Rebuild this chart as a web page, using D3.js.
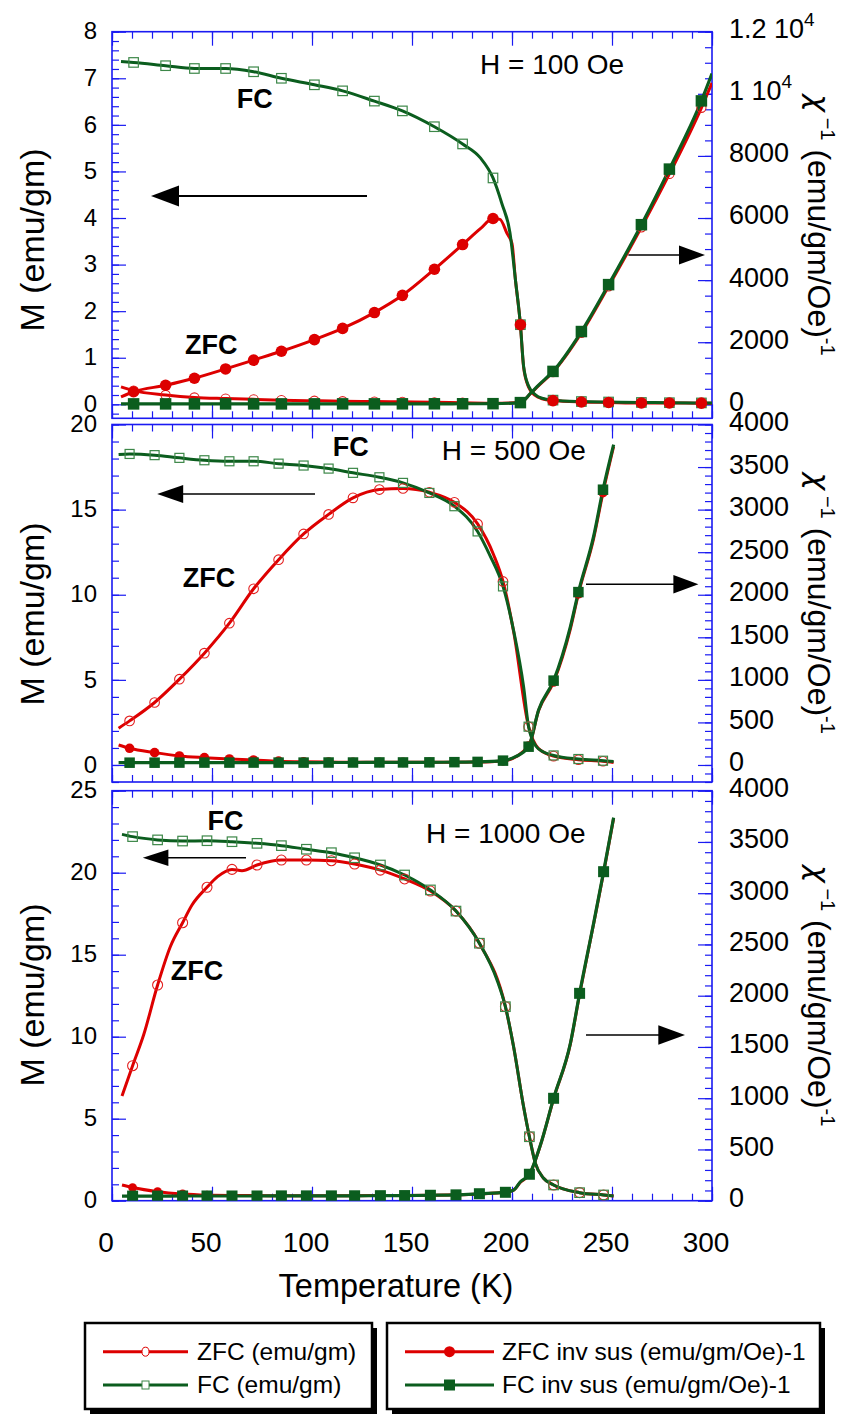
<!DOCTYPE html>
<html><head><meta charset="utf-8">
<script src="https://cdn.jsdelivr.net/npm/d3@7/dist/d3.min.js"></script>
<style>
body{margin:0;background:#fff}
svg{display:block}
text{font-family:"Liberation Sans",Arial,Helvetica,sans-serif;fill:#000}
</style>
</head><body>
<svg id="chart" width="854" height="1416"></svg>
<script>
// ---------------- DATA ----------------
const tempDomain = [0, 300];
const xTickLabels = [0, 50, 100, 150, 200, 250, 300];
const fieldLabels = ["H = 100 Oe", "H = 500 Oe", "H = 1000 Oe"];
const leftDomains = [[-0.3, 8], [-1, 20], [0, 25]];
const rightDomains = [[-450, 12000], [-200, 4000], [0, 4000]];
const leftTickLabels = [[0,1,2,3,4,5,6,7,8],[0,5,10,15,20],[0,5,10,15,20,25]];
const rightTickLabels = [[0,2000,4000,6000,8000,10000,12000],[0,500,1000,1500,2000,2500,3000,3500,4000],[0,500,1000,1500,2000,2500,3000,3500,4000]];
const legendLabels = ["ZFC (emu/gm)", "FC (emu/gm)", "ZFC inv sus (emu/gm/Oe)-1", "FC inv sus (emu/gm/Oe)-1"];

// H = 100 Oe
const markT_100 = [10.8,26.8,41.2,56.8,70.8,84.7,101.2,115.3,131.2,145.2,161.2,175.3,190.5,204.2,220.5,234.7,248.3,264.7,278.7,294.7];
const T_fcM_100 = [4.5,10.8,26.8,41.2,56.8,70.8,84.7,101.2,115.3,131.2,145.2,161.2,175.3,184.2,190.5,195,199,201.7,204.2,205.8,208.3,211.6,215,220.5,234.7,248.3,264.7,278.7,294.7,300];
const fcM_100   = [7.36,7.34,7.27,7.21,7.21,7.14,7.00,6.86,6.73,6.51,6.30,5.96,5.59,5.29,4.86,4.30,3.68,2.68,1.71,0.82,0.39,0.21,0.13,0.09,0.06,0.05,0.04,0.035,0.03,0.03];
const T_zfcM_100 = [4.5,10.8,26.8,41.2,56.8,70.8,84.7,101.2,115.3,131.2,145.2,161.2,175.3,184.2,190.5,194,197.5,200,201.7,204.2,205.8,208.3,211.6,215,220.5,234.7,248.3,264.7,278.7,294.7,300];
const zfcM_100   = [0.16,0.27,0.41,0.56,0.76,0.95,1.14,1.39,1.63,1.97,2.34,2.90,3.43,3.77,3.99,3.97,3.67,3.45,2.68,1.71,0.80,0.37,0.19,0.12,0.08,0.05,0.04,0.03,0.03,0.025,0.025];
const T_zfcInv_100 = [4.5,10.8,26.8,41.2,56.8,70.8,84.7,101.2,115.3,131.2,145.2,161.2,175.3,190.5,204.2,209.2,213.3,220.5,234.7,248.3,264.7,278.7,294.7,300];
const zfcInv_100   = [560,440,300,220,185,160,135,115,100,90,80,65,50,35,60,340,600,1040,2300,3800,5700,7420,9550,10350];
const T_fcInv_100 = [4.5,10.8,26.8,41.2,56.8,70.8,84.7,101.2,115.3,131.2,145.2,161.2,175.3,190.5,204.2,209.2,213.3,220.5,234.7,248.3,264.7,278.7,294.7,300];
const fcInv_100   = [14,14,14,14,14,14,14,15,15,15,16,17,18,21,55,350,620,1060,2344,3855,5785,7575,9772,10650];

// H = 500 Oe
const markT_500 = [8.8,21.3,33.7,46.2,58.7,70.8,83.3,95.8,108.3,120.5,133.7,145.5,158.7,171.2,182.8,195.5,208.3,220.8,233.2,245.5];
const T_zfcM_500 = [3.3,8.8,21.3,33.7,46.2,58.7,70.8,83.3,95.8,108.3,120.5,133.7,145.5,158.7,171.2,182.8,190.8,195.5,200.8,208.3,213,220.8,233.2,245.5,250.8];
const zfcM_500   = [2.16,2.59,3.67,5.04,6.57,8.33,10.35,12.06,13.57,14.72,15.69,16.18,16.24,16.02,15.43,14.16,12.35,10.78,7.84,2.25,1.0,0.52,0.31,0.22,0.15];
const T_fcM_500 = [3.3,8.8,21.3,33.7,46.2,58.7,70.8,83.3,95.8,108.3,120.5,133.7,145.5,158.7,171.2,182.8,189,195.5,200.8,205.8,208.3,212,216,220.8,233.2,245.5,250.8];
const fcM_500   = [18.24,18.27,18.2,18.04,17.9,17.84,17.84,17.7,17.59,17.41,17.16,16.9,16.57,15.98,15.2,13.72,12.3,10.49,7.9,4.6,2.25,1.1,0.75,0.56,0.35,0.25,0.2];
const T_zfcInv_500 = [3.3,8.8,21.3,33.7,46.2,58.7,70.8,83.3,95.8,108.3,120.5,133.7,145.5,158.7,171.2,182.8,195.5,208.3,213.3,220.8,229.2,233.2,240.8,245.5,250.8];
const zfcInv_500   = [235,196,145,106,86,71,59,45,38,34,32,31,31,31,33,35,47,222,640,975,1600,2010,2660,3200,3740];
const T_fcInv_500 = [3.3,8.8,21.3,33.7,46.2,58.7,70.8,83.3,95.8,108.3,120.5,133.7,145.5,158.7,171.2,182.8,195.5,202,208.3,213.3,220.8,229.2,233.2,240.8,245.5,250.8];
const fcInv_500   = [27,27,27,28,28,28,28,28,28,29,29,30,30,31,33,36,51,100,215,647,991,1626,2031,2685,3234,3763];

// H = 1000 Oe
const markT_1000 = [10.3,22.8,35.3,47.5,60,72.5,84.7,97.2,109.7,121.3,134.2,146.3,159.2,172,183.7,196.7,208.7,220.8,233.8,245.8];
const T_zfcM_1000 = [5,10.3,15.8,22.8,29.2,35.3,40,47.5,52.8,60,65,72.5,84.7,97.2,109.7,121.3,134.2,146.3,159.2,172,183.7,196.7,200.8,205.8,208.7,211.7,215.8,220.8,233.8,245.8,250.8];
const zfcM_1000   = [6.38,8.23,10.1,13.15,15.5,16.95,18.03,19.11,19.76,20.2,20.12,20.47,20.77,20.77,20.73,20.53,20.16,19.62,18.88,17.66,15.7,11.83,9.39,5.73,3.9,2.28,1.37,0.96,0.49,0.35,0.29];
const T_fcM_1000 = [5,10.3,22.8,35.3,47.5,60,72.5,84.7,97.2,109.7,121.3,134.2,146.3,159.2,172,183.7,192.5,196.7,200.8,205.8,208.7,211.7,215.8,220.8,233.8,245.8,250.8];
const fcM_1000   = [22.34,22.2,22.0,21.93,21.95,21.89,21.79,21.65,21.43,21.22,20.91,20.47,19.86,18.95,17.66,15.7,13.46,11.83,9.39,5.73,3.9,2.28,1.37,0.96,0.49,0.35,0.29];
const T_zfcInv_1000 = [5,10.3,22.8,35.3,47.5,60,72.5,84.7,97.2,109.7,121.3,134.2,146.3,159.2,172,183.7,196.7,200.8,204.2,208.7,214.2,220.8,229.2,233.8,240.8,245.8,250.8];
const zfcInv_1000   = [153,128,88,66,55,51,50,49,49,49,49,50,51,53,57,66,85,104,180,256,540,995,1530,2015,2700,3200,3730];
const T_fcInv_1000 = [5,10.3,22.8,35.3,47.5,60,72.5,84.7,97.2,109.7,121.3,134.2,146.3,159.2,172,183.7,196.7,200.8,204.2,208.7,214.2,220.8,229.2,233.8,240.8,245.8,250.8];
const fcInv_1000   = [45,45,45,46,46,46,46,47,47,47,48,49,50,53,57,68,82,104,185,258,543,999,1536,2023,2706,3210,3737];

// annotation anchors, in data units [T, left-axis value]
const fcLabelPos  = [[62.4, 6.37], [110.4, 18.15], [47.7, 22.6]];
const zfcLabelPos = [[36.5, 1.08], [35.4, 10.48], [29.4, 13.46]];
const fieldLabelPos = [[184, 7.1], [164.9, 17.92], [157, 21.79]];
// arrows: left-pointing on M axis [T from, T to, M]; right-pointing on inv axis [T from, T to, inv]
const leftArrows  = [[127.5, 19.5, 4.47], [101.5, 22.6, 15.92], [67, 15.4, 20.91]];
const rightArrows = [[258.2, 296.5, 4808], [237, 293.2, 2123], [237, 286.5, 1617]];

// ---------------- LAYOUT / STYLE ----------------
const RED = "#dd0000", GREEN = "#0b5d1e", SQ_OPEN = "#3c8748", BLUE = "#1a1af2";
const plotX = [112, 712];
const panelY = [[31.7, 418.3], [424.5, 782], [790.7, 1200.7]];
const leftMinorStep = [0.2, 1, 1], leftMajorStep = [1, 5, 5];
const rightMinorStep = [500, 100, 100], rightMajorStep = [2000, 500, 500];
const mk = [
  {oSq: 9.5, oR: 4.6, fR: 5.8, fSq: 11.5},
  {oSq: 9, oR: 4.8, fR: 4.8, fSq: 10.5},
  {oSq: 9.5, oR: 5, fR: 4.4, fSq: 11}
];
const titleCY = [240, 614, 995];
const arrowStyle = [
  {lw: 2, head: 28, half: 10.5, rlw: 1.4, rhead: 26, rhalf: 9.5},
  {lw: 1.4, head: 26, half: 9, rlw: 1.4, rhead: 25, rhalf: 9.3},
  {lw: 1.5, head: 25.6, half: 8.2, rlw: 1.4, rhead: 26.7, rhalf: 9.7}
];

const zip = (T, V) => T.map((t, i) => [t, V[i]]);
const panels = [
  {markT: markT_100, zfcM: zip(T_zfcM_100, zfcM_100), fcM: zip(T_fcM_100, fcM_100),
   zfcInv: zip(T_zfcInv_100, zfcInv_100), fcInv: zip(T_fcInv_100, fcInv_100), swapZfc: true},
  {markT: markT_500, zfcM: zip(T_zfcM_500, zfcM_500), fcM: zip(T_fcM_500, fcM_500),
   zfcInv: zip(T_zfcInv_500, zfcInv_500), fcInv: zip(T_fcInv_500, fcInv_500), swapZfc: false},
  {markT: markT_1000, zfcM: zip(T_zfcM_1000, zfcM_1000), fcM: zip(T_fcM_1000, fcM_1000),
   zfcInv: zip(T_zfcInv_1000, zfcInv_1000), fcInv: zip(T_fcInv_1000, fcInv_1000), swapZfc: false}
];

// ---------------- DRAW ----------------
const svg = d3.select("#chart");
const defs = svg.append("defs");
const x = d3.scaleLinear().domain(tempDomain).range(plotX);

function rangeTicks(dom, step) {
  const s = Math.ceil(dom[0] / step - 1e-9), e = Math.floor(dom[1] / step + 1e-9);
  return d3.range(s, e + 1).map(k => +(k * step).toFixed(6));
}

panels.forEach((p, i) => {
  const [y0, y1] = panelY[i];
  const yL = d3.scaleLinear().domain(leftDomains[i]).range([y1, y0]);
  const yR = d3.scaleLinear().domain(rightDomains[i]).range([y1, y0]);
  const g = svg.append("g");

  defs.append("clipPath").attr("id", "clip" + i).append("rect")
    .attr("x", plotX[0]).attr("y", y0).attr("width", plotX[1] - plotX[0]).attr("height", y1 - y0);

  // ticks (inward) using d3 axes
  const tickGroups = [];
  const xMinor = rangeTicks(tempDomain, 10), xMajor = rangeTicks(tempDomain, 50);
  const lMinor = rangeTicks(leftDomains[i], leftMinorStep[i]), lMajor = rangeTicks(leftDomains[i], leftMajorStep[i]);
  const rMinor = rangeTicks(rightDomains[i], rightMinorStep[i]), rMajor = rangeTicks(rightDomains[i], rightMajorStep[i]);
  [[7, xMinor, lMinor, rMinor], [14, xMajor, lMajor, rMajor]].forEach(([len, xv, lv, rv]) => {
    tickGroups.push(g.append("g").attr("transform", `translate(0,${y1})`).call(d3.axisBottom(x).tickValues(xv).tickSize(-len).tickFormat("")));
    tickGroups.push(g.append("g").attr("transform", `translate(0,${y0})`).call(d3.axisTop(x).tickValues(xv).tickSize(-len).tickFormat("")));
    tickGroups.push(g.append("g").attr("transform", `translate(${plotX[0]},0)`).call(d3.axisLeft(yL).tickValues(lv).tickSize(-len).tickFormat("")));
    tickGroups.push(g.append("g").attr("transform", `translate(${plotX[1]},0)`).call(d3.axisRight(yR).tickValues(rv).tickSize(-len).tickFormat("")));
  });
  tickGroups.forEach(tg => { tg.select(".domain").remove(); tg.selectAll("line").attr("stroke", BLUE).attr("stroke-width", 1.2); });

  // frame
  g.append("rect").attr("x", plotX[0]).attr("y", y0).attr("width", plotX[1] - plotX[0]).attr("height", y1 - y0)
    .attr("fill", "none").attr("stroke", BLUE).attr("stroke-width", 1.6);

  // left tick labels
  const la = g.append("g").attr("transform", `translate(${plotX[0]},0)`)
    .call(d3.axisLeft(yL).tickValues(leftTickLabels[i]).tickSize(0).tickPadding(15).tickFormat(d3.format("d")));
  la.select(".domain").remove();
  la.selectAll("text").attr("font-size", 24).attr("font-family", '"Liberation Sans",Arial,sans-serif').attr("fill", "#000").attr("dy", "0.3em");

  // right tick labels
  const ra = g.append("g").attr("transform", `translate(${plotX[1]},0)`)
    .call(d3.axisRight(yR).tickValues(rightTickLabels[i]).tickSize(0).tickPadding(17).tickFormat(d3.format("d")));
  ra.select(".domain").remove();
  ra.selectAll("text").attr("font-size", 27).attr("font-family", '"Liberation Sans",Arial,sans-serif').attr("fill", "#000").attr("dy", "0.22em");
  ra.selectAll(".tick text").each(function (d) {
    if (d >= 10000) {
      const t = d3.select(this);
      t.text(null);
      t.append("tspan").text((d / 10000) + " 10");
      t.append("tspan").attr("font-size", 19).attr("dy", -12).text("4");
    }
  });

  // bottom tick labels on last panel
  if (i === panels.length - 1) {
    const xa = g.append("g").attr("transform", `translate(0,${y1})`)
      .call(d3.axisBottom(x).tickValues(xTickLabels).tickSize(0).tickPadding(0).tickFormat(d3.format("d")));
    xa.select(".domain").remove();
    xa.selectAll("text").attr("font-size", 28).attr("font-family", '"Liberation Sans",Arial,sans-serif')
      .attr("fill", "#000").attr("y", 51).attr("dy", 0).attr("dx", -6.5);
  }

  // curves
  const cg = g.append("g").attr("clip-path", `url(#clip${i})`);
  const lineL = d3.line().x(d => x(d[0])).y(d => yL(d[1])).curve(d3.curveMonotoneX);
  const lineR = d3.line().x(d => x(d[0])).y(d => yR(d[1])).curve(d3.curveMonotoneX);
  cg.append("path").attr("d", lineR(p.zfcInv)).attr("fill", "none").attr("stroke", RED).attr("stroke-width", 3);
  cg.append("path").attr("d", lineL(p.zfcM)).attr("fill", "none").attr("stroke", RED).attr("stroke-width", 3);
  cg.append("path").attr("d", lineL(p.fcM)).attr("fill", "none").attr("stroke", GREEN).attr("stroke-width", 3);
  cg.append("path").attr("d", lineR(p.fcInv)).attr("fill", "none").attr("stroke", GREEN).attr("stroke-width", 3.2);

  const isMark = d => p.markT.some(t => Math.abs(t - d[0]) < 0.05);
  const m = mk[i];
  const zfcOpen = p.swapZfc ? p.zfcInv.filter(isMark).map(d => [x(d[0]), yR(d[1])]) : p.zfcM.filter(isMark).map(d => [x(d[0]), yL(d[1])]);
  const zfcFill = p.swapZfc ? p.zfcM.filter(isMark).map(d => [x(d[0]), yL(d[1])]) : p.zfcInv.filter(isMark).map(d => [x(d[0]), yR(d[1])]);
  const fcOpen = p.fcM.filter(isMark).map(d => [x(d[0]), yL(d[1])]);
  const fcFill = p.fcInv.filter(isMark).map(d => [x(d[0]), yR(d[1])]);

  cg.append("g").selectAll("circle").data(zfcOpen).join("circle")
    .attr("cx", d => d[0]).attr("cy", d => d[1]).attr("r", m.oR)
    .attr("fill", "none").attr("stroke", "#e32020").attr("stroke-width", 1.1);
  cg.append("g").selectAll("rect").data(fcOpen).join("rect")
    .attr("x", d => d[0] - m.oSq / 2).attr("y", d => d[1] - m.oSq / 2).attr("width", m.oSq).attr("height", m.oSq)
    .attr("fill", "none").attr("stroke", SQ_OPEN).attr("stroke-width", 1.2);
  cg.append("g").selectAll("circle").data(zfcFill).join("circle")
    .attr("cx", d => d[0]).attr("cy", d => d[1]).attr("r", m.fR).attr("fill", RED);
  cg.append("g").selectAll("rect").data(fcFill).join("rect")
    .attr("x", d => d[0] - m.fSq / 2).attr("y", d => d[1] - m.fSq / 2).attr("width", m.fSq).attr("height", m.fSq)
    .attr("fill", GREEN);

  // annotations
  g.append("text").attr("x", x(fcLabelPos[i][0])).attr("y", yL(fcLabelPos[i][1]))
    .attr("font-family", '"DejaVu Sans",Verdana,sans-serif').attr("font-weight", "bold").attr("font-size", 27).text("FC");
  g.append("text").attr("x", x(zfcLabelPos[i][0])).attr("y", yL(zfcLabelPos[i][1]))
    .attr("font-family", '"DejaVu Sans",Verdana,sans-serif').attr("font-weight", "bold").attr("font-size", 27).text("ZFC");
  g.append("text").attr("x", x(fieldLabelPos[i][0])).attr("y", yL(fieldLabelPos[i][1]))
    .attr("font-size", 28).text(fieldLabels[i]);

  // arrows
  const st = arrowStyle[i];
  const la0 = leftArrows[i];
  const ax0 = x(la0[0]), ax1 = x(la0[1]), ay = yL(la0[2]);
  g.append("line").attr("x1", ax0).attr("x2", ax1 + st.head - 2).attr("y1", ay).attr("y2", ay).attr("stroke", "#000").attr("stroke-width", st.lw);
  g.append("path").attr("d", `M${ax1},${ay}L${ax1 + st.head},${ay - st.half}L${ax1 + st.head},${ay + st.half}Z`).attr("fill", "#000");
  const ra0 = rightArrows[i];
  const bx0 = x(ra0[0]), bx1 = x(ra0[1]), by = yR(ra0[2]);
  g.append("line").attr("x1", bx0).attr("x2", bx1 - st.rhead + 2).attr("y1", by).attr("y2", by).attr("stroke", "#000").attr("stroke-width", st.rlw);
  g.append("path").attr("d", `M${bx1},${by}L${bx1 - st.rhead},${by - st.rhalf}L${bx1 - st.rhead},${by + st.rhalf}Z`).attr("fill", "#000");

  // axis titles
  svg.append("text").attr("transform", `translate(44,${titleCY[i]}) rotate(-90)`)
    .attr("text-anchor", "middle").attr("font-size", 34).text("M (emu/gm)");
  const rt = svg.append("text").attr("transform", `translate(808,${(y0 + y1) / 2}) rotate(90)`)
    .attr("text-anchor", "middle").attr("font-size", 32);
  rt.append("tspan").attr("font-family", '"DejaVu Sans",sans-serif').attr("font-style", "oblique").attr("font-size", 30).text("χ");
  rt.append("tspan").attr("font-size", 20).attr("dy", -13).text(" \u22121");
  rt.append("tspan").attr("dy", 13).text(" (emu/gm/Oe)");
  rt.append("tspan").attr("font-size", 20).attr("dy", -13).text("-1");
});

// x axis title
svg.append("text").attr("x", 396).attr("y", 1297).attr("text-anchor", "middle").attr("font-size", 32.5).text("Temperature (K)");

// ---------------- LEGEND ----------------
const legendBoxes = [
  {x: 85, w: 287, items: [0, 1], lx0: 103, lx1: 188, tx: 197},
  {x: 387, w: 433, items: [2, 3], lx0: 405, lx1: 494, tx: 502}
];
const legY = 1323, legH = 86, rowY = [1351.7, 1385];
const legColor = [RED, GREEN, RED, GREEN], legText = ["#e00000", "#1d6b2c", "#e00000", "#1d6b2c"];
legendBoxes.forEach(b => {
  const lg = svg.append("g");
  lg.append("rect").attr("x", b.x + 5).attr("y", legY + 5).attr("width", b.w).attr("height", legH).attr("fill", "#000");
  lg.append("rect").attr("x", b.x).attr("y", legY).attr("width", b.w).attr("height", legH).attr("fill", "#fff").attr("stroke", "#000").attr("stroke-width", 2.5);
  b.items.forEach((k, r) => {
    const cy = rowY[r], cx = (b.lx0 + b.lx1) / 2;
    lg.append("line").attr("x1", b.lx0).attr("x2", b.lx1).attr("y1", cy).attr("y2", cy).attr("stroke", legColor[k]).attr("stroke-width", 3);
    if (k === 0) lg.append("ellipse").attr("cx", cx).attr("cy", cy).attr("rx", 3.5).attr("ry", 4.5).attr("fill", "#fff").attr("stroke", RED).attr("stroke-width", 1);
    if (k === 1) lg.append("rect").attr("x", cx - 3.5).attr("y", cy - 4).attr("width", 7).attr("height", 8).attr("fill", "#fff").attr("stroke", SQ_OPEN).attr("stroke-width", 1);
    if (k === 2) lg.append("circle").attr("cx", cx).attr("cy", cy).attr("r", 5.5).attr("fill", RED);
    if (k === 3) lg.append("rect").attr("x", cx - 5.5).attr("y", cy - 5.5).attr("width", 11).attr("height", 11).attr("fill", GREEN);
    lg.append("text").attr("x", b.tx).attr("y", cy + 8).attr("font-size", 24.5).attr("fill", legText[k]).text(legendLabels[k]);
  });
});
</script>
</body></html>
